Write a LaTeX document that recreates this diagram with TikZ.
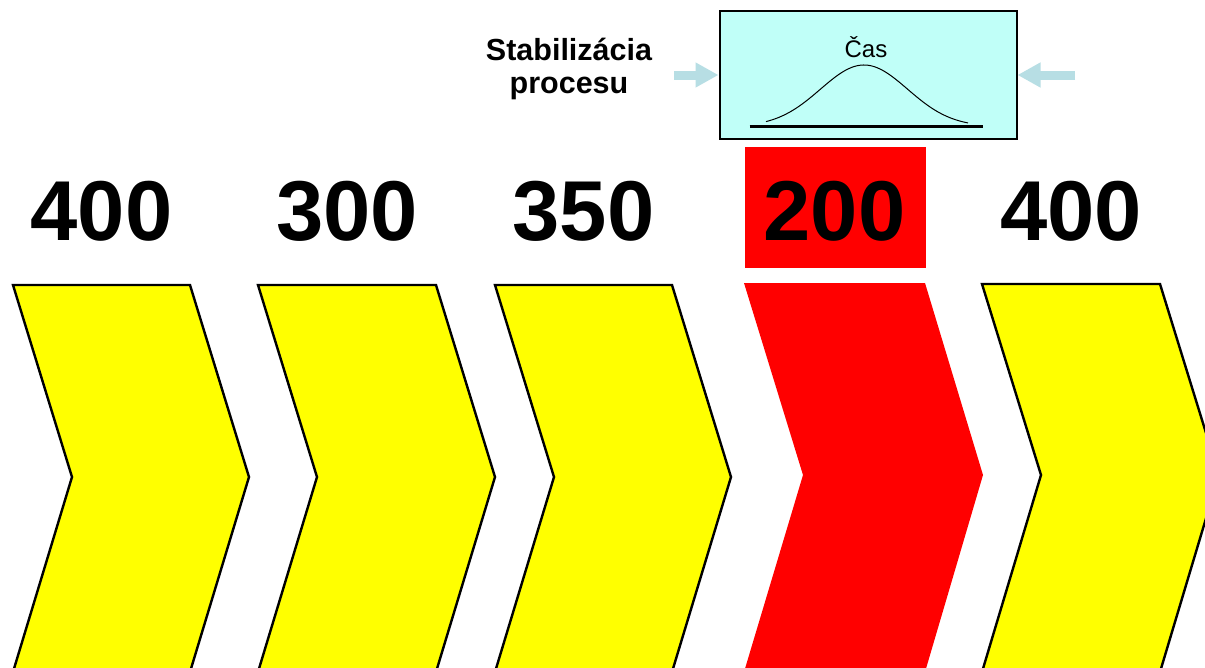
\documentclass[tikz,border=0pt]{standalone}
\usepackage{fontspec}
\setmainfont{Liberation Sans}
\usetikzlibrary{arrows.meta}
\definecolor{boxcyan}{RGB}{192,255,248}
\definecolor{hintblue}{RGB}{183,222,228}
\definecolor{chevyellow}{RGB}{255,255,0}
\definecolor{chevred}{RGB}{255,0,0}
\begin{document}
\begin{tikzpicture}[x=1pt,y=-1pt,
  chevy/.style={fill=chevyellow,draw=black,line width=2.4pt,line join=miter},
  chevr/.style={fill=chevred},
  num/.style={anchor=base,inner sep=0pt,font=\fontsize{85}{100}\selectfont\bfseries},
  lbl/.style={anchor=base,inner sep=0pt,font=\fontsize{30.5}{33}\selectfont\bfseries},
  hint/.style={draw=hintblue,line width=9pt,-{Triangle[length=23pt,width=23.5pt]}},
  timebox/.style={draw=black,fill=boxcyan,line width=2pt,inner sep=0pt,minimum width=297pt,minimum height=128pt}
]
\useasboundingbox (0,0) rectangle (1205,667);
\clip (0,0) rectangle (1205,667);
\fill[white] (0,0) rectangle (1205,667);

% chevrons
\draw[chevy] (13,285) -- (190,285) -- (249,477) -- (190,672) -- (13,672) -- (72,477) -- cycle;
\draw[chevy] (258,285) -- (436,285) -- (495,477) -- (436,672) -- (258,672) -- (317,477) -- cycle;
\draw[chevy] (495,285) -- (672,285) -- (731,477) -- (672,672) -- (495,672) -- (554,477) -- cycle;
\fill[chevr] (744,283) -- (925,283) -- (983,475) -- (925,672) -- (744,672) -- (803,475) -- cycle;
\draw[chevy] (982,284) -- (1160,284) -- (1219,475) -- (1160,672) -- (982,672) -- (1041,475) -- cycle;

% red highlight box
\node[fill=chevred,inner sep=0pt,minimum width=181pt,minimum height=121pt] (rb) at (835.5,207.5) {};

% numbers
\node[num] (n1) at (101.5,240) {400};
\node[num] (n2) at (347,240) {300};
\node[num] (n3) at (583.5,240) {350};
\node[num] (n4) at (834.5,240) {200};
\node[num] (n5) at (1071,240) {400};

% time box
\node[timebox] (box) at (868,75) {};
\node[anchor=base,inner sep=0pt,font=\fontsize{24}{28}\selectfont] (cas) at (866,57) {Čas};
\draw[line width=2.3pt] (749.5,126.5) -- (982.5,126.5);
\draw[line width=1pt] plot[domain=766:968,samples=90,smooth] (\x,{126.5-61.5*exp(-((\x-864)^2)/3800)});

% arrows
\coordinate (la) at (674,75);
\coordinate (ra) at (1075,75);
\draw[hint] (la) -- (box.west);
\draw[hint] (ra) -- (box.east);

% label
\node[lbl] (s1) at (569,60) {Stabilizácia};
\node[lbl] (s2) at (569,93) {procesu};
\end{tikzpicture}
\end{document}
